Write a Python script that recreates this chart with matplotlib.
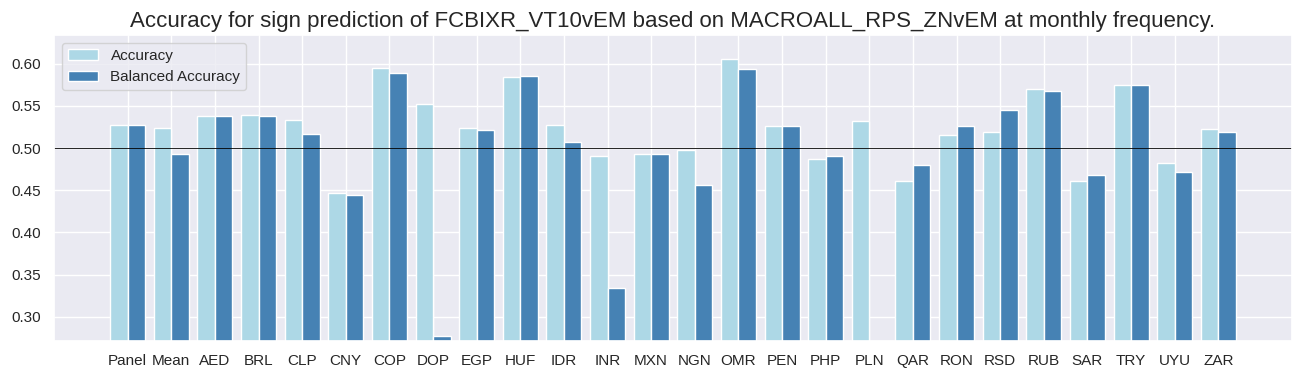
import matplotlib
import numpy as np

matplotlib.use("Agg")

import matplotlib.pyplot as plt
import seaborn as sns

categories = ["Panel", "Mean", "AED", "BRL", "CLP", "CNY", "COP", "DOP", "EGP", "HUF",
              "IDR", "INR", "MXN", "NGN", "OMR", "PEN", "PHP", "PLN", "QAR", "RON",
              "RSD", "RUB", "SAR", "TRY", "UYU", "ZAR"]
accuracy = [0.5272, 0.5240, 0.5379, 0.5390, 0.5335, 0.4469, 0.5948, 0.5525, 0.5236, 0.5845,
            0.5272, 0.4904, 0.4928, 0.4975, 0.6054, 0.5260, 0.4869, 0.5319, 0.4608, 0.5153,
            0.5189, 0.5699, 0.4608, 0.5746, 0.4821, 0.5224]
balanced_accuracy = [0.5272, 0.4928, 0.5379, 0.5379, 0.5165, 0.4446, 0.5892, 0.2770, 0.5213, 0.5857,
                     0.5070, 0.3339, 0.4928, 0.4560, 0.5936, 0.5260, 0.4904, 0.2600, 0.4798, 0.5260,
                     0.5450, 0.5675, 0.4679, 0.5746, 0.4715, 0.5189]

sns.set_theme(style="darkgrid")
plt.rcParams["font.family"] = ["Liberation Sans", "DejaVu Sans"]

fig = plt.figure(figsize=(13.03, 3.79), dpi=100)
ax = fig.add_axes([0.0414, 0.1003, 0.9502, 0.8074])

x = np.arange(len(categories))
w = 0.4
ax.bar(x - w / 2, accuracy, width=w, color="lightblue", label="Accuracy")
ax.bar(x + w / 2, balanced_accuracy, width=w, color="steelblue", label="Balanced Accuracy")
ax.axhline(0.5, color="black", linewidth=0.6)

ax.set_xticks(x)
ax.set_xticklabels(categories, fontsize=11)
ax.tick_params(axis="y", labelsize=11)
ax.set_ylim(0.2714, 0.634)
ax.set_title("Accuracy for sign prediction of FCBIXR_VT10vEM based on MACROALL_RPS_ZNvEM at monthly frequency.",
             fontsize=16)
ax.legend(loc="upper left", fontsize=11)

fig.savefig("out.png", dpi=100)
